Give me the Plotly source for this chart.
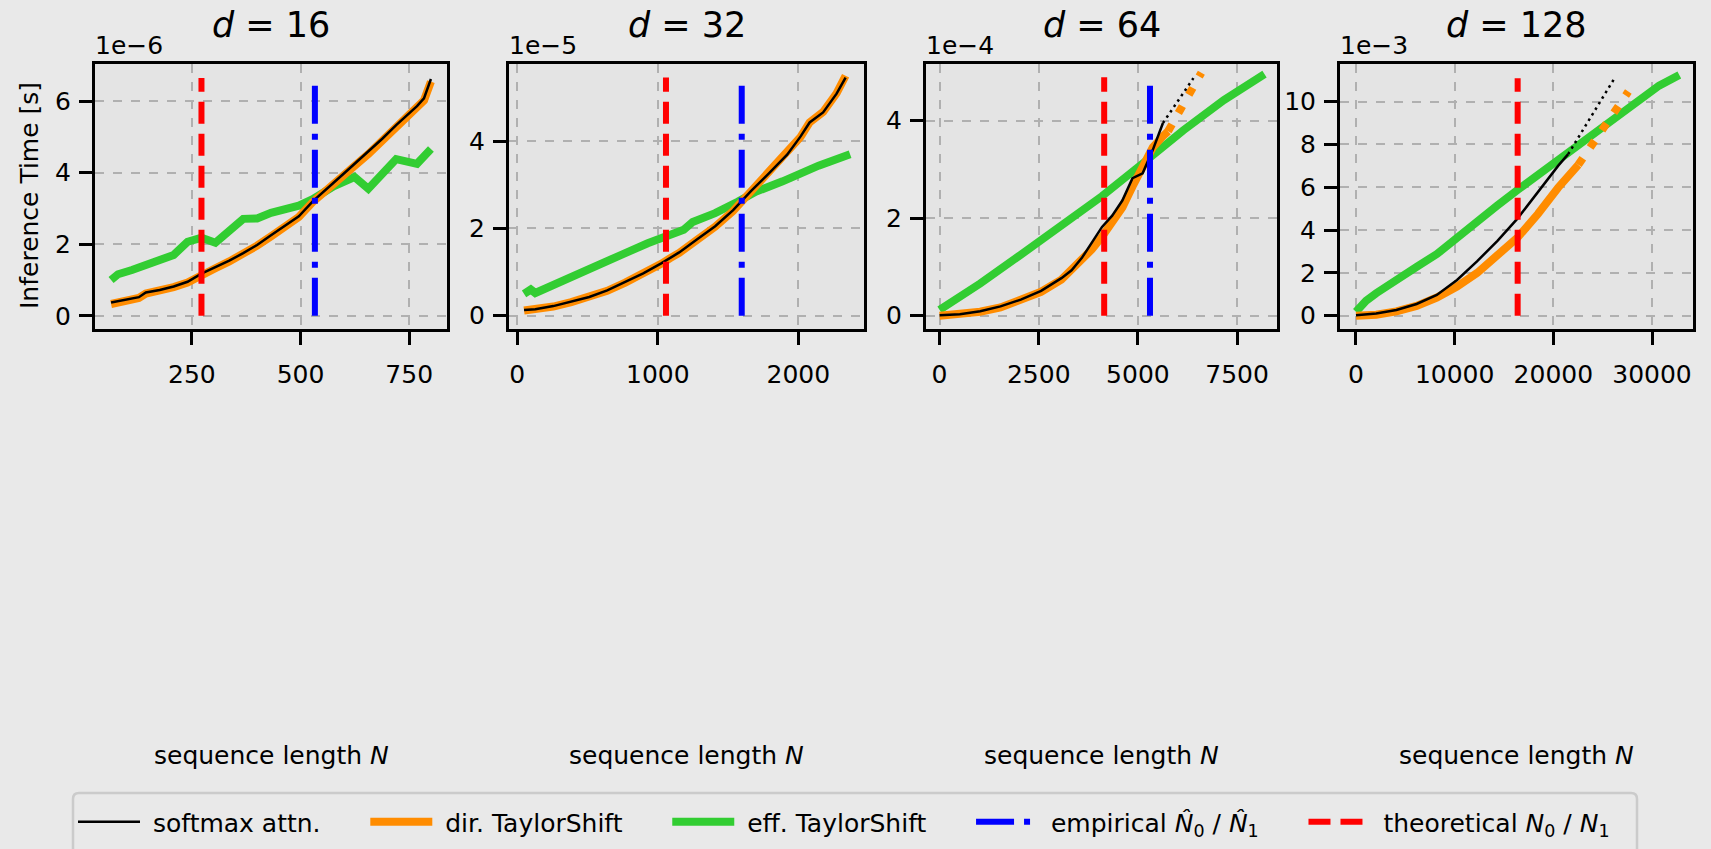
import plotly.graph_objects as go

W, H = 1711, 849

# ---------------- data (values in axis units, see SCALE_LABELS) ----------------
D_VALUES = [16, 32, 64, 128]
SCALE_LABELS = ["1e−6", "1e−5", "1e−4", "1e−3"]

# d = 16  (1e-6 s)
n16_soft = [64, 96, 128, 144, 176, 208, 240, 272, 304, 336, 368, 400, 432, 464, 496,
            528, 544, 576, 608, 656, 688, 720, 768, 784, 800]
soft16 = [0.37, 0.44, 0.52, 0.65, 0.72, 0.82, 0.95, 1.18, 1.35, 1.54, 1.75, 1.98, 2.25, 2.52, 2.78,
          3.20, 3.38, 3.72, 4.07, 4.59, 4.95, 5.33, 5.86, 6.08, 6.62]
dir16 = [0.33, 0.42, 0.50, 0.62, 0.70, 0.80, 0.93, 1.16, 1.33, 1.52, 1.73, 1.96, 2.22, 2.49, 2.76,
         3.18, 3.36, 3.69, 4.02, 4.52, 4.88, 5.27, 5.80, 6.02, 6.55]
n16_eff = [64, 80, 112, 160, 208, 240, 272, 304, 336, 368, 400, 432, 496, 528, 576, 624, 656, 720, 768, 800]
eff16 = [1.00, 1.16, 1.28, 1.47, 1.70, 2.07, 2.18, 2.04, 2.40, 2.71, 2.72, 2.88, 3.08, 3.26, 3.62,
         3.88, 3.55, 4.38, 4.25, 4.66]

# d = 32  (1e-5 s)
n32_soft = [48, 128, 256, 384, 512, 640, 768, 896, 1024, 1088, 1152, 1280, 1408, 1536, 1664,
            1792, 1920, 2016, 2080, 2176, 2272, 2336]
soft32 = [0.13, 0.15, 0.22, 0.32, 0.43, 0.58, 0.77, 0.97, 1.20, 1.33, 1.45, 1.75, 2.05, 2.42, 2.86,
          3.27, 3.69, 4.11, 4.43, 4.66, 5.09, 5.46]
dir32 = [0.12, 0.14, 0.21, 0.31, 0.42, 0.57, 0.76, 0.96, 1.19, 1.32, 1.44, 1.74, 2.04, 2.40, 2.85,
         3.26, 3.70, 4.10, 4.43, 4.67, 5.10, 5.50]
n32_eff = [48, 96, 128, 224, 352, 544, 736, 928, 1120, 1184, 1248, 1408, 1568, 1696, 1888, 2016, 2144, 2368]
eff32 = [0.50, 0.60, 0.52, 0.65, 0.86, 1.12, 1.39, 1.66, 1.89, 1.97, 2.15, 2.35, 2.61, 2.84, 3.08,
         3.26, 3.44, 3.70]

# d = 64  (1e-4 s)
n64_soft = [0, 512, 1024, 1536, 2048, 2560, 3072, 3328, 3584, 3840, 4096, 4352, 4608, 4864, 5120,
            5376, 5632]
soft64 = [0.01, 0.03, 0.09, 0.19, 0.33, 0.51, 0.77, 0.93, 1.18, 1.50, 1.82, 2.05, 2.36, 2.82, 2.92,
          3.40, 3.95]
n64_dir = [0, 512, 1024, 1536, 2048, 2560, 3072, 3584, 3840, 4096, 4352, 4608, 4864, 5120, 5376,
           5632, 5760]
dir64 = [0.00, 0.03, 0.08, 0.17, 0.31, 0.49, 0.74, 1.12, 1.36, 1.62, 1.90, 2.22, 2.65, 3.05, 3.45,
         3.68, 3.78]
n64_eff = [0, 256, 512, 1024, 2048, 3072, 4096, 5120, 6144, 7168, 8192]
eff64 = [0.12, 0.25, 0.36, 0.66, 1.25, 1.85, 2.45, 3.12, 3.80, 4.42, 4.95]
n64_soft_ext = [5632, 6400]
soft64_ext = [3.95, 4.87]
n64_dir_ext = [5760, 6600]
dir64_ext = [3.78, 4.98]

# d = 128  (1e-3 s)
n128_soft = [0, 2048, 4096, 6144, 8192, 10240, 12288, 14336, 16384, 18432, 20480, 21504]
soft128 = [0.02, 0.10, 0.27, 0.55, 0.97, 1.67, 2.55, 3.50, 4.55, 5.80, 7.00, 7.55]
n128_dir = [0, 2048, 4096, 6144, 8192, 10240, 12288, 14336, 16384, 18432, 20480, 22528]
dir128 = [0.00, 0.05, 0.20, 0.46, 0.85, 1.36, 2.00, 2.80, 3.66, 4.75, 5.98, 7.05]
n128_eff = [0, 1024, 2048, 4096, 6144, 8192, 10240, 12288, 14336, 16384, 18432, 20480, 22528,
            24576, 26624, 28672, 30720, 32768]
eff128 = [0.19, 0.70, 1.05, 1.62, 2.28, 2.88, 3.60, 4.33, 5.15, 5.88, 6.58, 7.30, 8.02, 8.65,
          9.45, 10.05, 10.75, 11.25]
n128_soft_ext = [21504, 26300]
soft128_ext = [7.55, 11.17]
n128_dir_ext = [22528, 27600]
dir128_ext = [7.05, 10.47]

# thresholds: theoretical N0/N1 (red) and empirical (blue); top of drawn line
theo_N = [272, 1058, 4150, 16384]
emp_N = [533, 1597, 5305, None]
vline_top = [6.65, 5.46, 4.89, 11.09]

# axes
x_ranges = [[27, 837], [-59, 2467], [-342, 8507], [-1621, 34154]]
y_ranges = [[-0.37, 7.04], [-0.305, 5.77], [-0.273, 5.16], [-0.62, 11.76]]
x_ticks = [[250, 500, 750], [0, 1000, 2000], [0, 2500, 5000, 7500], [0, 10000, 20000, 30000]]
y_ticks = [[0, 2, 4, 6], [0, 2, 4], [0, 2, 4], [0, 2, 4, 6, 8, 10]]

# legend labels
LEG_SOFT = "softmax attn."
LEG_DIR = "dir. TaylorShift"
LEG_EFF = "eff. TaylorShift"
LEG_EMP = "empirical <i>N̂</i><sub>0</sub> / <i>N̂</i><sub>1</sub>"
LEG_THEO = "theoretical <i>N</i><sub>0</sub> / <i>N</i><sub>1</sub>"

# ---------------- layout geometry (pixels) ----------------
panel_px = [(95, 447), (509, 864), (926, 1277), (1340, 1693)]
top_px, bot_px = 64, 329

FONT = "DejaVu Sans"
FS = 25
BLACK = "#000000"
ORANGE = "#ff8c00"
GREEN = "#32cd32"
BLUE = "#0000ff"
RED = "#ff0000"
NB = "\u00a0"


def pad(s, lead, trail):
    return NB * lead + s + NB * trail


panels = [
    dict(soft=(n16_soft, soft16), dirx=(n16_soft, dir16), eff=(n16_eff, eff16), ext=None),
    dict(soft=(n32_soft, soft32), dirx=(n32_soft, dir32), eff=(n32_eff, eff32), ext=None),
    dict(soft=(n64_soft, soft64), dirx=(n64_dir, dir64), eff=(n64_eff, eff64),
         ext=((n64_soft_ext, soft64_ext), (n64_dir_ext, dir64_ext))),
    dict(soft=(n128_soft, soft128), dirx=(n128_dir, dir128), eff=(n128_eff, eff128),
         ext=((n128_soft_ext, soft128_ext), (n128_dir_ext, dir128_ext))),
]

fig = go.Figure()

for i, p in enumerate(panels):
    xa = "x" if i == 0 else f"x{i+1}"
    ya = "y" if i == 0 else f"y{i+1}"
    first = i == 0
    fig.add_trace(go.Scatter(x=p["eff"][0], y=p["eff"][1], mode="lines", xaxis=xa, yaxis=ya,
                             line=dict(color=GREEN, width=8), name=pad(LEG_EFF, 1, 5),
                             legendrank=3, showlegend=first, legendgroup="eff"))
    fig.add_trace(go.Scatter(x=p["dirx"][0], y=p["dirx"][1], mode="lines", xaxis=xa, yaxis=ya,
                             line=dict(color=ORANGE, width=8), name=pad(LEG_DIR, 1, 5),
                             legendrank=2, showlegend=first, legendgroup="dir"))
    if p["ext"] is not None:
        (sx, sy), (dx, dy) = p["ext"]
        fig.add_trace(go.Scatter(x=dx, y=dy, mode="lines", xaxis=xa, yaxis=ya,
                                 line=dict(color=ORANGE, width=8, dash="8px,13px"),
                                 showlegend=False, legendgroup="dir"))
        fig.add_trace(go.Scatter(x=sx, y=sy, mode="lines", xaxis=xa, yaxis=ya,
                                 line=dict(color=BLACK, width=2.5, dash="2.5px,4px"),
                                 showlegend=False, legendgroup="soft"))
    fig.add_trace(go.Scatter(x=p["soft"][0], y=p["soft"][1], mode="lines", xaxis=xa, yaxis=ya,
                             line=dict(color=BLACK, width=2.5), name=pad(LEG_SOFT, 1, 5),
                             legendrank=1, showlegend=first, legendgroup="soft"))
    if emp_N[i] is not None:
        fig.add_trace(go.Scatter(x=[emp_N[i], emp_N[i]], y=[0, vline_top[i]], mode="lines",
                                 xaxis=xa, yaxis=ya,
                                 line=dict(color=BLUE, width=6, dash="38px,10px,6px,10px"),
                                 name=pad(LEG_EMP, 1, 5),
                                 legendrank=4, showlegend=first, legendgroup="emp"))
    fig.add_trace(go.Scatter(x=[theo_N[i], theo_N[i]], y=[0, vline_top[i]], mode="lines",
                             xaxis=xa, yaxis=ya,
                             line=dict(color=RED, width=6, dash="22px,10px"),
                             name=pad(LEG_THEO, 1, 1),
                             legendrank=5, showlegend=first, legendgroup="theo"))

axis_common = dict(
    showline=True, linewidth=3, linecolor=BLACK, mirror=True,
    ticks="outside", ticklen=13, tickwidth=3, tickcolor=BLACK,
    showgrid=True, gridcolor="#b0b0b0", griddash="dash", gridwidth=1.5,
    zeroline=False, tickfont=dict(family=FONT, size=FS, color=BLACK),
)

layout = dict(
    width=W, height=H,
    paper_bgcolor="#e9e9e9", plot_bgcolor="#e4e4e4",
    margin=dict(l=0, r=0, t=0, b=0, autoexpand=False),
    font=dict(family=FONT, size=FS, color=BLACK),
    showlegend=True,
    legend=dict(orientation="h", x=73 / W, xanchor="left", y=1 - 799 / H, yanchor="top",
                bgcolor="rgba(0,0,0,0)", borderwidth=0,
                font=dict(family=FONT, size=FS, color=BLACK), itemwidth=62,
                traceorder="normal"),
)

ydom = [1 - bot_px / H, 1 - top_px / H]
annotations = []
for i in range(4):
    sfx = "" if i == 0 else str(i + 1)
    l, r = panel_px[i]
    layout["xaxis" + sfx] = dict(axis_common, domain=[l / W, r / W], range=x_ranges[i],
                                 tickvals=x_ticks[i], tickformat="d", ticklabelstandoff=8,
                                 anchor="y" + sfx)
    layout["yaxis" + sfx] = dict(axis_common, domain=ydom, range=y_ranges[i],
                                 tickvals=y_ticks[i], ticklabelstandoff=3, anchor="x" + sfx)
    cx = (l + r) / 2 / W
    annotations.append(dict(text=f"<i>d</i> = {D_VALUES[i]}", x=cx, y=1 - 25 / H, xref="paper",
                            yref="paper", xanchor="center", yanchor="middle", showarrow=False,
                            font=dict(family=FONT, size=35, color=BLACK)))
    annotations.append(dict(text=SCALE_LABELS[i], x=(l - 2) / W, y=1 - 45 / H, xref="paper",
                            yref="paper", xanchor="left", yanchor="middle", showarrow=False,
                            font=dict(family=FONT, size=FS, color=BLACK)))
    annotations.append(dict(text="sequence length <i>N</i>", x=cx, y=1 - 755 / H, xref="paper",
                            yref="paper", xanchor="center", yanchor="middle", showarrow=False,
                            font=dict(family=FONT, size=FS, color=BLACK)))

annotations.append(dict(text="Inference Time [s]", x=30 / W, y=1 - 196 / H, xref="paper",
                        yref="paper", xanchor="center", yanchor="middle", textangle=-90,
                        showarrow=False, font=dict(family=FONT, size=FS, color=BLACK)))
layout["annotations"] = annotations

# legend frame (rounded box running off the bottom edge, as in the reference)
x0, x1, y0, y1, rr = 73 / W, 1637 / W, 1 - 793 / H, -0.05, 6
fig.add_shape(type="path", xref="paper", yref="paper", layer="below",
              path=(f"M {x0},{y1} L {x0},{y0 - rr / H} Q {x0},{y0} {x0 + rr / W},{y0} "
                    f"L {x1 - rr / W},{y0} Q {x1},{y0} {x1},{y0 - rr / H} L {x1},{y1} Z"),
              line=dict(color="#cbcbcb", width=2.5), fillcolor="#e9e9e9")

fig.update_layout(**layout)

fig.write_html("out.html", config={"displayModeBar": False},
               post_script="document.body.style.margin='0';document.body.style.overflow='hidden';")
